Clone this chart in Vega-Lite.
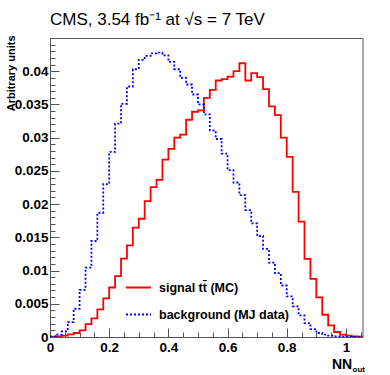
{
  "$schema": "https://vega.github.io/schema/vega-lite/v6.json",
  "width": 312.5,
  "height": 299,
  "autosize": {"type": "none"},
  "padding": {"left": 50, "top": 38, "right": 27.5, "bottom": 38},
  "background": "white",
  "config": {"view": {"stroke": "#555", "strokeWidth": 1}},
  "title": {"text": "CMS, 3.54 fb⁻¹ at  √s = 7 TeV", "anchor": "start", "frame": "group", "font": "Liberation Sans", "fontSize": 17, "fontWeight": "normal", "color": "black", "baseline": "alphabetic", "offset": 6, "dy": 13},
  "datasets": {
    "hist": [
      {"nn": 0.00, "v": 0.00003, "s": "signal tt̄ (MC)"},
      {"nn": 0.02, "v": 0.0001, "s": "signal tt̄ (MC)"},
      {"nn": 0.04, "v": 0.0002, "s": "signal tt̄ (MC)"},
      {"nn": 0.06, "v": 0.0004, "s": "signal tt̄ (MC)"},
      {"nn": 0.08, "v": 0.0006, "s": "signal tt̄ (MC)"},
      {"nn": 0.10, "v": 0.001, "s": "signal tt̄ (MC)"},
      {"nn": 0.12, "v": 0.00195, "s": "signal tt̄ (MC)"},
      {"nn": 0.14, "v": 0.0028, "s": "signal tt̄ (MC)"},
      {"nn": 0.16, "v": 0.00415, "s": "signal tt̄ (MC)"},
      {"nn": 0.18, "v": 0.0058, "s": "signal tt̄ (MC)"},
      {"nn": 0.20, "v": 0.00745, "s": "signal tt̄ (MC)"},
      {"nn": 0.22, "v": 0.00915, "s": "signal tt̄ (MC)"},
      {"nn": 0.24, "v": 0.0118, "s": "signal tt̄ (MC)"},
      {"nn": 0.26, "v": 0.0138, "s": "signal tt̄ (MC)"},
      {"nn": 0.28, "v": 0.01645, "s": "signal tt̄ (MC)"},
      {"nn": 0.30, "v": 0.0178, "s": "signal tt̄ (MC)"},
      {"nn": 0.32, "v": 0.02045, "s": "signal tt̄ (MC)"},
      {"nn": 0.34, "v": 0.02255, "s": "signal tt̄ (MC)"},
      {"nn": 0.36, "v": 0.02365, "s": "signal tt̄ (MC)"},
      {"nn": 0.38, "v": 0.0267, "s": "signal tt̄ (MC)"},
      {"nn": 0.40, "v": 0.0283, "s": "signal tt̄ (MC)"},
      {"nn": 0.42, "v": 0.0300, "s": "signal tt̄ (MC)"},
      {"nn": 0.44, "v": 0.03045, "s": "signal tt̄ (MC)"},
      {"nn": 0.46, "v": 0.0327, "s": "signal tt̄ (MC)"},
      {"nn": 0.48, "v": 0.0339, "s": "signal tt̄ (MC)"},
      {"nn": 0.50, "v": 0.0341, "s": "signal tt̄ (MC)"},
      {"nn": 0.52, "v": 0.0360, "s": "signal tt̄ (MC)"},
      {"nn": 0.54, "v": 0.0372, "s": "signal tt̄ (MC)"},
      {"nn": 0.56, "v": 0.0386, "s": "signal tt̄ (MC)"},
      {"nn": 0.58, "v": 0.0388, "s": "signal tt̄ (MC)"},
      {"nn": 0.60, "v": 0.0392, "s": "signal tt̄ (MC)"},
      {"nn": 0.62, "v": 0.0400, "s": "signal tt̄ (MC)"},
      {"nn": 0.64, "v": 0.0412, "s": "signal tt̄ (MC)"},
      {"nn": 0.66, "v": 0.0386, "s": "signal tt̄ (MC)"},
      {"nn": 0.68, "v": 0.0397, "s": "signal tt̄ (MC)"},
      {"nn": 0.70, "v": 0.0391, "s": "signal tt̄ (MC)"},
      {"nn": 0.72, "v": 0.0373, "s": "signal tt̄ (MC)"},
      {"nn": 0.74, "v": 0.0347, "s": "signal tt̄ (MC)"},
      {"nn": 0.76, "v": 0.0334, "s": "signal tt̄ (MC)"},
      {"nn": 0.78, "v": 0.0300, "s": "signal tt̄ (MC)"},
      {"nn": 0.80, "v": 0.0271, "s": "signal tt̄ (MC)"},
      {"nn": 0.82, "v": 0.02185, "s": "signal tt̄ (MC)"},
      {"nn": 0.84, "v": 0.01735, "s": "signal tt̄ (MC)"},
      {"nn": 0.86, "v": 0.01175, "s": "signal tt̄ (MC)"},
      {"nn": 0.88, "v": 0.00875, "s": "signal tt̄ (MC)"},
      {"nn": 0.90, "v": 0.00595, "s": "signal tt̄ (MC)"},
      {"nn": 0.92, "v": 0.00335, "s": "signal tt̄ (MC)"},
      {"nn": 0.94, "v": 0.00175, "s": "signal tt̄ (MC)"},
      {"nn": 0.96, "v": 0.00075, "s": "signal tt̄ (MC)"},
      {"nn": 0.98, "v": 0.00035, "s": "signal tt̄ (MC)"},
      {"nn": 1.00, "v": 0.0002, "s": "signal tt̄ (MC)"},
      {"nn": 1.02, "v": 0.0001, "s": "signal tt̄ (MC)"},
      {"nn": 1.04, "v": 0.00005, "s": "signal tt̄ (MC)"},
      {"nn": 1.06, "v": 0.00005, "s": "signal tt̄ (MC)"},
      {"nn": 0.00, "v": 0.0001, "s": "background (MJ data)"},
      {"nn": 0.02, "v": 0.00035, "s": "background (MJ data)"},
      {"nn": 0.04, "v": 0.00085, "s": "background (MJ data)"},
      {"nn": 0.06, "v": 0.00225, "s": "background (MJ data)"},
      {"nn": 0.08, "v": 0.00425, "s": "background (MJ data)"},
      {"nn": 0.10, "v": 0.0071, "s": "background (MJ data)"},
      {"nn": 0.12, "v": 0.01045, "s": "background (MJ data)"},
      {"nn": 0.14, "v": 0.01445, "s": "background (MJ data)"},
      {"nn": 0.16, "v": 0.0187, "s": "background (MJ data)"},
      {"nn": 0.18, "v": 0.0230, "s": "background (MJ data)"},
      {"nn": 0.20, "v": 0.02785, "s": "background (MJ data)"},
      {"nn": 0.22, "v": 0.0321, "s": "background (MJ data)"},
      {"nn": 0.24, "v": 0.0351, "s": "background (MJ data)"},
      {"nn": 0.26, "v": 0.0377, "s": "background (MJ data)"},
      {"nn": 0.28, "v": 0.0403, "s": "background (MJ data)"},
      {"nn": 0.30, "v": 0.0417, "s": "background (MJ data)"},
      {"nn": 0.32, "v": 0.0423, "s": "background (MJ data)"},
      {"nn": 0.34, "v": 0.0427, "s": "background (MJ data)"},
      {"nn": 0.36, "v": 0.0428, "s": "background (MJ data)"},
      {"nn": 0.38, "v": 0.0424, "s": "background (MJ data)"},
      {"nn": 0.40, "v": 0.0414, "s": "background (MJ data)"},
      {"nn": 0.42, "v": 0.0403, "s": "background (MJ data)"},
      {"nn": 0.44, "v": 0.0390, "s": "background (MJ data)"},
      {"nn": 0.46, "v": 0.0380, "s": "background (MJ data)"},
      {"nn": 0.48, "v": 0.0365, "s": "background (MJ data)"},
      {"nn": 0.50, "v": 0.0350, "s": "background (MJ data)"},
      {"nn": 0.52, "v": 0.0335, "s": "background (MJ data)"},
      {"nn": 0.54, "v": 0.0311, "s": "background (MJ data)"},
      {"nn": 0.56, "v": 0.0298, "s": "background (MJ data)"},
      {"nn": 0.58, "v": 0.0276, "s": "background (MJ data)"},
      {"nn": 0.60, "v": 0.0251, "s": "background (MJ data)"},
      {"nn": 0.62, "v": 0.02325, "s": "background (MJ data)"},
      {"nn": 0.64, "v": 0.02135, "s": "background (MJ data)"},
      {"nn": 0.66, "v": 0.0191, "s": "background (MJ data)"},
      {"nn": 0.68, "v": 0.0171, "s": "background (MJ data)"},
      {"nn": 0.70, "v": 0.0152, "s": "background (MJ data)"},
      {"nn": 0.72, "v": 0.01325, "s": "background (MJ data)"},
      {"nn": 0.74, "v": 0.0112, "s": "background (MJ data)"},
      {"nn": 0.76, "v": 0.0096, "s": "background (MJ data)"},
      {"nn": 0.78, "v": 0.00775, "s": "background (MJ data)"},
      {"nn": 0.80, "v": 0.0061, "s": "background (MJ data)"},
      {"nn": 0.82, "v": 0.0046, "s": "background (MJ data)"},
      {"nn": 0.84, "v": 0.00325, "s": "background (MJ data)"},
      {"nn": 0.86, "v": 0.0021, "s": "background (MJ data)"},
      {"nn": 0.88, "v": 0.0012, "s": "background (MJ data)"},
      {"nn": 0.90, "v": 0.0006, "s": "background (MJ data)"},
      {"nn": 0.92, "v": 0.00035, "s": "background (MJ data)"},
      {"nn": 0.94, "v": 0.0002, "s": "background (MJ data)"},
      {"nn": 0.96, "v": 0.0001, "s": "background (MJ data)"},
      {"nn": 0.98, "v": 0.00005, "s": "background (MJ data)"},
      {"nn": 1.00, "v": 0.00002, "s": "background (MJ data)"},
      {"nn": 1.02, "v": 0, "s": "background (MJ data)"},
      {"nn": 1.04, "v": 0, "s": "background (MJ data)"},
      {"nn": 1.06, "v": 0, "s": "background (MJ data)"}
    ]
  },
  "data": {"name": "hist"},
  "resolve": {"axis": {"x": "independent", "y": "independent"}},
  "layer": [
    {
      "mark": {"type": "line", "interpolate": "step-after", "strokeWidth": 1.8, "clip": true},
      "encoding": {
        "x": {
          "field": "nn", "type": "quantitative",
          "scale": {"domain": [0, 1.056], "nice": false, "zero": false},
          "axis": {
            "orient": "bottom", "values": [0, 0.2, 0.4, 0.6, 0.8, 1], "format": "~g",
            "tickSize": -9, "tickColor": "#555", "tickWidth": 1, "domainColor": "#555",
            "labelPadding": 12, "labelFont": "Liberation Sans", "labelFontWeight": "bold", "labelFontSize": 13.5, "labelColor": "black",
            "labelFlush": false, "labelOverlap": false, "grid": false,
            "title": "NN", "titleFont": "Liberation Sans", "titleFontWeight": "bold", "titleFontSize": 14, "titleColor": "black",
            "titleAnchor": "end", "titleAlign": "right", "titleBaseline": "alphabetic", "titleX": 301.7, "titleY": 31
          }
        },
        "y": {
          "field": "v", "type": "quantitative",
          "scale": {"domain": [0, 0.045], "nice": false, "zero": true},
          "axis": {
            "orient": "left", "values": [0, 0.005, 0.01, 0.015, 0.02, 0.025, 0.03, 0.035, 0.04], "format": "~g",
            "tickSize": -9, "tickColor": "#555", "tickWidth": 1, "domainColor": "#555",
            "labelPadding": 11, "labelFont": "Liberation Sans", "labelFontWeight": "bold", "labelFontSize": 13.5, "labelColor": "black",
            "labelFlush": false, "labelOverlap": false, "grid": false,
            "title": "Arbitrary units", "titleFont": "Liberation Sans", "titleFontWeight": "bold", "titleFontSize": 11, "titleColor": "black",
            "titleAngle": -90, "titleAnchor": "end", "titleAlign": "right", "titleBaseline": "alphabetic", "titleX": -36, "titleY": -3
          }
        },
        "color": {
          "field": "s", "type": "nominal",
          "scale": {"domain": ["signal tt̄ (MC)", "background (MJ data)"], "range": ["#ff0000", "#0000ff"]},
          "legend": {"orient": "none", "legendX": 75, "legendY": 236, "title": null, "symbolType": "stroke", "symbolSize": 625, "symbolStrokeWidth": 1.8, "labelFont": "Liberation Sans", "labelFontWeight": "bold", "labelFontSize": 12.5, "labelColor": "black", "labelOffset": 7, "rowPadding": 7, "padding": 0, "labelLimit": 300}
        },
        "strokeDash": {
          "field": "s", "type": "nominal",
          "scale": {"domain": ["signal tt̄ (MC)", "background (MJ data)"], "range": [[1, 0], [2, 2]]},
          "legend": {"orient": "none", "legendX": 75, "legendY": 236, "title": null, "symbolType": "stroke", "symbolSize": 625, "symbolStrokeWidth": 1.8, "labelFont": "Liberation Sans", "labelFontWeight": "bold", "labelFontSize": 12.5, "labelColor": "black", "labelOffset": 7, "rowPadding": 7, "padding": 0, "labelLimit": 300}
        }
      }
    },
    {
      "mark": {"type": "point", "opacity": 0},
      "encoding": {
        "x": {
          "field": "nn", "type": "quantitative",
          "axis": {
            "orient": "bottom", "values": [0.05, 0.1, 0.15, 0.25, 0.3, 0.35, 0.45, 0.5, 0.55, 0.65, 0.7, 0.75, 0.85, 0.9, 0.95, 1.05],
            "tickSize": -5, "tickColor": "#555", "tickWidth": 1, "labels": false, "domain": false, "grid": false,
            "title": "out", "titleFont": "Liberation Sans", "titleFontWeight": "bold", "titleFontSize": 8, "titleColor": "black",
            "titleAnchor": "end", "titleAlign": "left", "titleBaseline": "alphabetic", "titleX": 302, "titleY": 34
          }
        },
        "y": {
          "field": "v", "type": "quantitative",
          "axis": {
            "orient": "left", "values": [0.001, 0.002, 0.003, 0.004, 0.006, 0.007, 0.008, 0.009, 0.011, 0.012, 0.013, 0.014, 0.016, 0.017, 0.018, 0.019, 0.021, 0.022, 0.023, 0.024, 0.026, 0.027, 0.028, 0.029, 0.031, 0.032, 0.033, 0.034, 0.036, 0.037, 0.038, 0.039, 0.041, 0.042, 0.043, 0.044],
            "tickSize": -5, "tickColor": "#555", "tickWidth": 1, "labels": false, "domain": false, "grid": false, "title": null
          }
        }
      }
    }
  ]
}
